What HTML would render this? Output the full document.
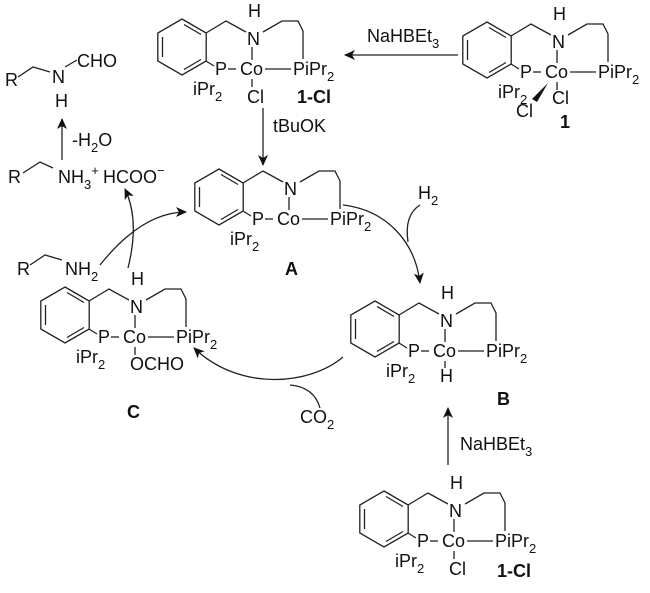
<!DOCTYPE html>
<html><head><meta charset="utf-8"><style>
html,body{margin:0;padding:0;background:#fff;}
svg{display:block;}
text{font-family:"Liberation Sans",Arial,sans-serif;font-size:18px;fill:#111;}
.b{font-weight:bold;}
.s{font-size:13px;}
</style></head><body>
<svg width="650" height="593" viewBox="0 0 650 593" xmlns="http://www.w3.org/2000/svg">
<defs>
<marker id="ah" markerWidth="12" markerHeight="10" refX="10" refY="5" orient="auto" markerUnits="userSpaceOnUse">
<path d="M0,0 L11,5 L0,10 L3,5 Z" fill="#111"/></marker>
<g id="core" fill="none" stroke="#222" stroke-width="1.3">
<polygon points="487,22 511.2,36 511.2,64 487,78 462.8,64 462.8,36"/>
<line x1="467.5" y1="40" x2="467.5" y2="60"/>
<line x1="489" y1="27.5" x2="506" y2="37.5"/>
<line x1="506" y1="62.5" x2="489" y2="72.5"/>
<polyline points="511,36 531,24 551,35"/>
<line x1="557" y1="50" x2="557" y2="63"/>
<polyline points="568,35 587,24 603,24 608,34 608,62"/>
<line x1="511" y1="64" x2="519" y2="69"/>
<line x1="533" y1="72" x2="541" y2="72"/>
<line x1="570" y1="72" x2="596" y2="72"/>
</g>
</defs>

<!-- compound 1 -->
<g transform="translate(0,0)">
<use href="#core"/>
<text x="552" y="48">N</text><text x="553" y="20">H</text>
<text x="520" y="78">P</text><text x="545" y="78">Co</text>
<text x="598" y="78">PiPr<tspan class="s" dy="6">2</tspan></text>
<text x="498" y="98">iPr<tspan class="s" dy="6">2</tspan></text>
<line x1="557" y1="82" x2="557" y2="90" stroke="#222" stroke-width="1.3"/>
<text x="552" y="104">Cl</text>
<polygon points="548,83 532,99 537,102" fill="#111"/>
<text x="516" y="117">Cl</text>
<text x="560" y="128" class="b">1</text>
</g>

<!-- top 1-Cl -->
<g transform="translate(-305,-3)">
<use href="#core"/>
<text x="552" y="48">N</text><text x="553" y="20">H</text>
<text x="520" y="78">P</text><text x="545" y="78">Co</text>
<text x="598" y="78">PiPr<tspan class="s" dy="6">2</tspan></text>
<text x="498" y="98">iPr<tspan class="s" dy="6">2</tspan></text>
<line x1="557" y1="82" x2="557" y2="90" stroke="#222" stroke-width="1.3"/>
<text x="552" y="106">Cl</text>
<text x="602" y="106" class="b">1-Cl</text>
</g>

<!-- A -->
<g transform="translate(-268,147)">
<use href="#core"/>
<text x="552" y="48">N</text>
<text x="520" y="78">P</text><text x="545" y="78">Co</text>
<text x="598" y="78">PiPr<tspan class="s" dy="6">2</tspan></text>
<text x="498" y="98">iPr<tspan class="s" dy="6">2</tspan></text>
</g>
<text x="285" y="275" class="b">A</text>

<!-- B -->
<g transform="translate(-112,279)">
<use href="#core"/>
<text x="552" y="48">N</text><text x="553" y="20">H</text>
<text x="520" y="78">P</text><text x="545" y="78">Co</text>
<text x="598" y="78">PiPr<tspan class="s" dy="6">2</tspan></text>
<text x="498" y="98">iPr<tspan class="s" dy="6">2</tspan></text>
<line x1="557" y1="82" x2="557" y2="89" stroke="#222" stroke-width="1.3"/>
<text x="552" y="103">H</text>
</g>
<text x="497" y="405" class="b">B</text>

<!-- C -->
<g transform="translate(-422,265)">
<use href="#core"/>
<text x="552" y="48">N</text><text x="553" y="20">H</text>
<text x="520" y="78">P</text><text x="545" y="78">Co</text>
<text x="598" y="78">PiPr<tspan class="s" dy="6">2</tspan></text>
<text x="498" y="98">iPr<tspan class="s" dy="6">2</tspan></text>
<line x1="557" y1="82" x2="557" y2="90" stroke="#222" stroke-width="1.3"/>
<text x="552" y="105">OCHO</text>
</g>
<text x="127" y="418" class="b">C</text>

<!-- bottom 1-Cl -->
<g transform="translate(-103,469)">
<use href="#core"/>
<text x="552" y="48">N</text><text x="553" y="20">H</text>
<text x="520" y="78">P</text><text x="545" y="78">Co</text>
<text x="598" y="78">PiPr<tspan class="s" dy="6">2</tspan></text>
<text x="498" y="98">iPr<tspan class="s" dy="6">2</tspan></text>
<line x1="557" y1="82" x2="557" y2="90" stroke="#222" stroke-width="1.3"/>
<text x="552" y="106">Cl</text>
<text x="600" y="108" class="b">1-Cl</text>
</g>

<!-- formamide -->
<text x="5" y="86">R</text>
<polyline points="18,77 33,67 50,72" fill="none" stroke="#222" stroke-width="1.3"/>
<text x="52" y="83">N</text>
<line x1="65" y1="67" x2="77" y2="60" stroke="#222" stroke-width="1.3"/>
<text x="77" y="67">CHO</text>
<text x="55" y="107">H</text>

<!-- ammonium formate -->
<text x="8" y="183">R</text>
<polyline points="23,173 40,162 53,168" fill="none" stroke="#222" stroke-width="1.3"/>
<text x="58" y="183">NH<tspan class="s" dy="6">3</tspan><tspan class="s" dy="-14">+</tspan></text>
<text x="103" y="183">HCOO<tspan class="s" dy="-8">−</tspan></text>

<!-- amine -->
<text x="17" y="275">R</text>
<polyline points="30,265 45,255 62,260" fill="none" stroke="#222" stroke-width="1.3"/>
<text x="65" y="275">NH<tspan class="s" dy="6">2</tspan></text>

<!-- straight arrows -->
<g stroke="#222" stroke-width="1.3" fill="none">
<line x1="62" y1="160" x2="62" y2="119" marker-end="url(#ah)"/>
<line x1="458" y1="55" x2="345" y2="55" marker-end="url(#ah)"/>
<line x1="263" y1="108" x2="263" y2="165" marker-end="url(#ah)"/>
<line x1="448" y1="465" x2="448" y2="408" marker-end="url(#ah)"/>
<!-- curved -->
<path d="M343,205 C385,210 415,240 420,283" marker-end="url(#ah)"/>
<path d="M420,205 Q404,215 408,242"/>
<path d="M343,357 C310,385 240,392 194,348" marker-end="url(#ah)"/>
<path d="M320,408 Q314,387 290,385"/>
<path d="M128,268 C135,240 136,212 125,189" marker-end="url(#ah)"/>
<path d="M100,265 C120,240 150,212 186,212" marker-end="url(#ah)"/>
</g>

<text x="72" y="146">-H<tspan class="s" dy="6">2</tspan><tspan dy="-6">O</tspan></text>
<text x="367" y="42">NaHBEt<tspan class="s" dy="6">3</tspan></text>
<text x="273" y="132">tBuOK</text>
<text x="460" y="450">NaHBEt<tspan class="s" dy="6">3</tspan></text>
<text x="418" y="199">H<tspan class="s" dy="6">2</tspan></text>
<text x="300" y="423">CO<tspan class="s" dy="6">2</tspan></text>
</svg>
</body></html>
